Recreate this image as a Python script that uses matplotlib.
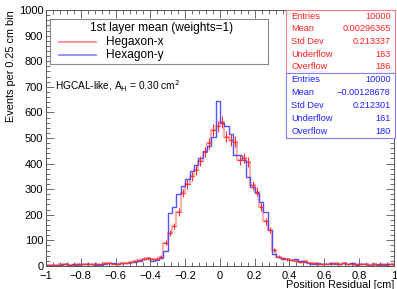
import numpy as np
import matplotlib
matplotlib.use('Agg')
import matplotlib.pyplot as plt
from matplotlib.ticker import MultipleLocator

plt.rcParams['font.family'] = ['Liberation Sans', 'DejaVu Sans']

# 80 bins of 0.025 from -1 to 1
edges = np.linspace(-1, 1, 81)

red = [3, 5, 2, 6, 8, 4, 5, 7, 6, 8, 6, 9, 5, 11, 12, 9, 8, 10, 12, 14,
       18, 22, 28, 30, 25, 28, 35, 90, 130, 155, 210, 285, 320, 350, 375, 410,
       445, 480, 530, 545, 564, 505, 492, 486, 414, 422, 407, 316, 290, 230,
       175, 140, 62, 36, 28, 25, 22, 20, 15, 18, 12, 10, 8, 6, 9, 7, 10, 8,
       12, 6, 7, 5, 8, 6, 5, 7, 4, 6, 5, 8]
blue = [4, 3, 5, 4, 6, 5, 7, 4, 8, 6, 7, 5, 9, 8, 10, 12, 9, 11, 13, 15,
        15, 20, 25, 32, 20, 22, 30, 58, 205, 232, 280, 312, 340, 370, 395, 420,
        450, 470, 505, 645, 557, 547, 516, 434, 434, 414, 348, 310, 284, 250,
        212, 140, 45, 35, 30, 25, 22, 25, 18, 15, 12, 9, 10, 7, 8, 12, 9, 6,
        10, 8, 11, 7, 6, 8, 5, 9, 6, 5, 7, 6]

red_stats = [('Entries', '10000'), ('Mean', '0.00296365'), ('Std Dev', '0.213337'),
             ('Underflow', '163'), ('Overflow', '186')]
blue_stats = [('Entries', '10000'), ('Mean', '\u22120.00128678'), ('Std Dev', '0.212301'),
              ('Underflow', '161'), ('Overflow', '180')]

red = np.array(red, dtype=float)
blue = np.array(blue, dtype=float)
centers = 0.5 * (edges[:-1] + edges[1:])

fig = plt.figure(figsize=(3.97, 2.89), dpi=100)
ax = fig.add_axes([0.116, 0.080, 0.876, 0.885])

# red: faint steps + error bars
ax.stairs(red, edges, color='#ff8080', lw=1.6, alpha=0.6)
ax.errorbar(centers, red, yerr=np.sqrt(red), xerr=0.0125, fmt='none',
            ecolor='#ff3030', elinewidth=0.8)
# blue steps
ax.stairs(blue, edges, color='#4040ff', lw=1.0, alpha=0.9)

ax.set_xlim(-1, 1)
ax.set_ylim(0, 1000)
ax.xaxis.set_major_locator(MultipleLocator(0.2))
ax.xaxis.set_minor_locator(MultipleLocator(0.04))
ax.yaxis.set_major_locator(MultipleLocator(100))
ax.yaxis.set_minor_locator(MultipleLocator(20))
ax.tick_params(which='both', direction='in', top=True, right=True, labelsize=8,
               color='#555555', pad=2)
ax.tick_params(axis='x', pad=4)
ax.tick_params(which='major', length=6, width=0.6)
ax.tick_params(which='minor', length=3, width=0.6)
ax.set_xticks(np.arange(-1, 1.01, 0.2))
ax.set_xticklabels(['\u22121', '\u22120.8', '\u22120.6', '\u22120.4', '\u22120.2',
                    '0', '0.2', '0.4', '0.6', '0.8', '1'])
for s in ax.spines.values():
    s.set_color('#555555')
    s.set_linewidth(0.7)

ax.set_ylabel('Events per 0.25 cm bin', fontsize=7.8, loc='top', labelpad=2)
ax.set_xlabel('Position Residual [cm]', fontsize=7.8, loc='right', labelpad=-1)

# legend box
leg_ax = fig.add_axes([50 / 397, 1 - 64 / 289, 218 / 397, 45 / 289])
leg_ax.set_xlim(0, 1)
leg_ax.set_ylim(0, 1)
leg_ax.set_xticks([])
leg_ax.set_yticks([])
for s in leg_ax.spines.values():
    s.set_color('#888888')
    s.set_linewidth(0.8)
leg_ax.text(0.51, 0.80, '1st layer mean (weights=1)', ha='center', va='center', fontsize=8.6)
leg_ax.plot([0.04, 0.21], [0.50, 0.50], color='#ff8080', lw=1.2)
leg_ax.plot([0.04, 0.21], [0.20, 0.20], color='#8080ff', lw=1.2)
leg_ax.text(0.257, 0.50, 'Hegaxon-x', ha='left', va='center', fontsize=8.6)
leg_ax.text(0.257, 0.20, 'Hexagon-y', ha='left', va='center', fontsize=8.6)

fig.text(55 / 397, 1 - 86 / 289, r'HGCAL-like, A$_{\rm H}$ = 0.30 cm$^{2}$',
         fontsize=7.3, ha='left', va='center')

# stats boxes
def stats_box(y0, y1, stats, color, edge):
    b = fig.add_axes([286 / 397, 1 - y1 / 289, 109 / 397, (y1 - y0) / 289])
    b.set_xlim(0, 1)
    b.set_ylim(0, 1)
    b.set_xticks([])
    b.set_yticks([])
    for s in b.spines.values():
        s.set_color(edge)
        s.set_linewidth(0.8)
    n = len(stats)
    for k, (name, val) in enumerate(stats):
        yy = 1 - (k + 0.5) / n
        b.text(0.05, yy, name, color=color, fontsize=6.6, ha='left', va='center')
        b.text(0.96, yy, val, color=color, fontsize=6.6, ha='right', va='center')

stats_box(10, 73, red_stats, '#ff2020', '#ff8080')
stats_box(73, 138, blue_stats, '#2020ff', '#8080ff')

fig.savefig('out.png', dpi=100)
